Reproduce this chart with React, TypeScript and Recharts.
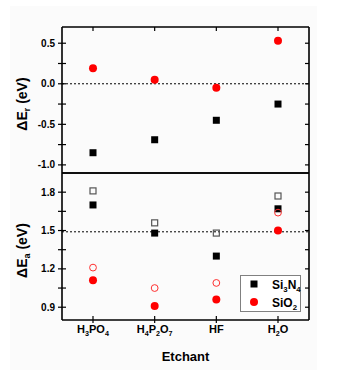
import React from 'react';
import { ComposedChart, Scatter, XAxis, YAxis, ReferenceLine } from 'recharts';

const etchants = ['H3PO4', 'H4P2O7', 'HF', 'H2O'];

// top panel: ΔEr
const erSi3N4 = [-0.85, -0.69, -0.45, -0.25];
const erSiO2 = [0.19, 0.05, -0.05, 0.53];

// bottom panel: ΔEa, filled and open symbols
const eaSi3N4 = [1.7, 1.48, 1.3, 1.67];
const eaSi3N4Open = [1.81, 1.56, 1.48, 1.77];
const eaSiO2 = [1.11, 0.91, 0.96, 1.5];
const eaSiO2Open = [1.21, 1.05, 1.09, 1.64];

const erTicks = [-1, -0.75, -0.5, -0.25, 0, 0.25, 0.5];
const erLabels = [-1, -0.5, 0, 0.5];
const eaTicks = [0.9, 1.05, 1.2, 1.35, 1.5, 1.65, 1.8];
const eaLabels = [0.9, 1.2, 1.5, 1.8];

const FONT = '"Liberation Sans", Arial, sans-serif';

const topData = etchants.map((name, i) => ({ name, Si3N4: erSi3N4[i], SiO2: erSiO2[i] }));
const botData = etchants.map((name, i) => ({
  name,
  Si3N4: eaSi3N4[i],
  Si3N4Open: eaSi3N4Open[i],
  SiO2: eaSiO2[i],
  SiO2Open: eaSiO2Open[i],
}));

// split "H3PO4" into tspans with subscript digits
function subParts(str: string, size: number, shift: number) {
  const tokens = str.match(/\d+|\D+/g) || [];
  let down = false;
  return tokens.map((t, i) => {
    const isNum = /\d/.test(t);
    let dy = 0;
    if (isNum && !down) { dy = shift; down = true; }
    else if (!isNum && down) { dy = -shift; down = false; }
    return (
      <tspan key={i} dy={dy} fontSize={isNum ? size * 0.65 : size}>{t}</tspan>
    );
  });
}

const fillSquare = (p: any) => <rect x={p.cx - 3.5} y={p.cy - 3.5} width={7} height={7} fill="#000" />;
const fillCircle = (p: any) => <circle cx={p.cx} cy={p.cy} r={4} fill="#ff0000" />;
const openSquare = (p: any) => (
  <rect x={p.cx - 3} y={p.cy - 3} width={6} height={6} fill="#fff" fillOpacity={0} stroke="#555" strokeWidth={1.2} />
);
const openCircle = (p: any) => (
  <circle cx={p.cx} cy={p.cy} r={3.4} fill="none" stroke="#ff3030" strokeWidth={1} />
);

const makeLeftTick = (labels: number[]) => (p: any) => {
  const { x, y, payload } = p;
  const v = payload.value;
  const show = labels.some((l) => Math.abs(l - v) < 1e-6);
  return (
    <g>
      <line x1={x - 4} x2={x + 4} y1={y} y2={y} stroke="#000" strokeWidth={1.2} />
      {show && (
        <text x={x - 7} y={y + 3.6} textAnchor="end" fontFamily={FONT} fontWeight="bold" fontSize={10} fill="#000">
          {v.toFixed(1)}
        </text>
      )}
    </g>
  );
};

const RightTick = (p: any) => (
  <line x1={p.x - 4} x2={p.x} y1={p.y} y2={p.y} stroke="#000" strokeWidth={1.2} />
);

const TopTick = (p: any) => (
  <line x1={p.x} x2={p.x} y1={p.y} y2={p.y + 4} stroke="#000" strokeWidth={1.2} />
);

const BottomTick = (p: any) => (
  <g>
    <line x1={p.x} x2={p.x} y1={p.y - 4} y2={p.y + 3} stroke="#000" strokeWidth={1.2} />
    <text x={p.x} y={p.y + 13} textAnchor="middle" fontFamily={FONT} fontWeight="bold" fontSize={11} fill="#000">
      {subParts(p.payload.value, 11, 3)}
    </text>
  </g>
);

const yTitle = (sub: string) => (props: any) => {
  const vb = props.viewBox;
  const cy = vb.y + vb.height / 2 + 4;
  const bx = 27;
  return (
    <text
      x={bx}
      y={cy}
      transform={`rotate(-90, ${bx}, ${cy})`}
      textAnchor="middle"
      fontFamily={FONT}
      fontWeight="bold"
      fontSize={14}
      fill="#000"
    >
      <tspan>ΔE</tspan>
      <tspan fontSize={9} dy={3}>{sub}</tspan>
      <tspan dy={-3}> (eV)</tspan>
    </text>
  );
};

const xTitle = (props: any) => {
  const vb = props.viewBox;
  return (
    <text x={vb.x + vb.width / 2} y={vb.y + 41} textAnchor="middle" fontFamily={FONT} fontWeight="bold" fontSize={13} fill="#000">
      Etchant
    </text>
  );
};

const frame = { stroke: '#000', strokeWidth: 1.6 };
const catPad = { left: 31, right: 31 };

export default function App() {
  return (
    <div style={{ position: 'absolute', left: 0, top: 0, width: 352, height: 370, background: '#fff' }}>
      <div style={{ position: 'absolute', left: 10, top: 6, width: 307, height: 364, background: '#fbfbfb' }} />

      <div style={{ position: 'absolute', left: 0, top: 0 }}>
        <ComposedChart width={352} height={175} data={topData} margin={{ top: 0, right: 0, bottom: 0, left: 0 }}>
          <XAxis xAxisId="top" orientation="top" dataKey="name" type="category" height={27} padding={catPad}
            axisLine={frame} tickLine={false} tickSize={0} tickMargin={0} tick={TopTick} interval={0} />
          <XAxis xAxisId="bot" orientation="bottom" dataKey="name" type="category" height={2} padding={catPad}
            axisLine={frame} tickLine={false} tick={false} />
          <YAxis yAxisId="l" orientation="left" type="number" domain={[-1.1, 0.7]} ticks={erTicks} width={62}
            axisLine={frame} tickLine={false} tickSize={0} tickMargin={0} tick={makeLeftTick(erLabels)} interval={0}
            allowDataOverflow label={{ content: yTitle('r') }} />
          <YAxis yAxisId="r" orientation="right" type="number" domain={[-1.1, 0.7]} ticks={erTicks} width={43}
            axisLine={frame} tickLine={false} tickSize={0} tickMargin={0} tick={RightTick} interval={0} allowDataOverflow />
          <ReferenceLine xAxisId="bot" yAxisId="l" y={0} stroke="#000" strokeWidth={1} strokeDasharray="2 2" />
          <Scatter xAxisId="bot" yAxisId="l" dataKey="Si3N4" shape={fillSquare} isAnimationActive={false} />
          <Scatter xAxisId="bot" yAxisId="l" dataKey="SiO2" shape={fillCircle} isAnimationActive={false} />
        </ComposedChart>
      </div>

      <div style={{ position: 'absolute', left: 0, top: 172 }}>
        <ComposedChart width={352} height={198} data={botData} margin={{ top: 0, right: 0, bottom: 0, left: 0 }}>
          <XAxis xAxisId="top" orientation="top" dataKey="name" type="category" height={1} padding={catPad}
            axisLine={frame} tickLine={false} tick={false} />
          <XAxis xAxisId="bot" orientation="bottom" dataKey="name" type="category" height={50} padding={catPad}
            axisLine={frame} tickLine={false} tickSize={0} tickMargin={0} tick={BottomTick} interval={0}
            label={{ content: xTitle }} />
          <YAxis yAxisId="l" orientation="left" type="number" domain={[0.8, 1.95]} ticks={eaTicks} width={62}
            axisLine={frame} tickLine={false} tickSize={0} tickMargin={0} tick={makeLeftTick(eaLabels)} interval={0}
            allowDataOverflow label={{ content: yTitle('a') }} />
          <YAxis yAxisId="r" orientation="right" type="number" domain={[0.8, 1.95]} ticks={eaTicks} width={43}
            axisLine={frame} tickLine={false} tickSize={0} tickMargin={0} tick={RightTick} interval={0} allowDataOverflow />
          <ReferenceLine xAxisId="bot" yAxisId="l" y={1.49} stroke="#000" strokeWidth={1} strokeDasharray="2 2" />
          <Scatter xAxisId="bot" yAxisId="l" dataKey="Si3N4" shape={fillSquare} isAnimationActive={false} />
          <Scatter xAxisId="bot" yAxisId="l" dataKey="Si3N4Open" shape={openSquare} isAnimationActive={false} />
          <Scatter xAxisId="bot" yAxisId="l" dataKey="SiO2" shape={fillCircle} isAnimationActive={false} />
          <Scatter xAxisId="bot" yAxisId="l" dataKey="SiO2Open" shape={openCircle} isAnimationActive={false} />
        </ComposedChart>
      </div>

      <svg width={352} height={370} style={{ position: 'absolute', left: 0, top: 0, pointerEvents: 'none' }}>
        <rect x={240.5} y={275.5} width={60} height={36} fill="#fff" stroke="#808080" strokeWidth={1} />
        <rect x={250.5} y={280.5} width={7} height={7} fill="#000" />
        <circle cx={254} cy={302} r={4} fill="#ff0000" />
        <text x={272} y={288.5} fontFamily={FONT} fontWeight="bold" fontSize={12} fill="#000">
          {subParts('Si3N4', 12, 3)}
        </text>
        <text x={272} y={306.5} fontFamily={FONT} fontWeight="bold" fontSize={12} fill="#000">
          {subParts('SiO2', 12, 3)}
        </text>
      </svg>
    </div>
  );
}
